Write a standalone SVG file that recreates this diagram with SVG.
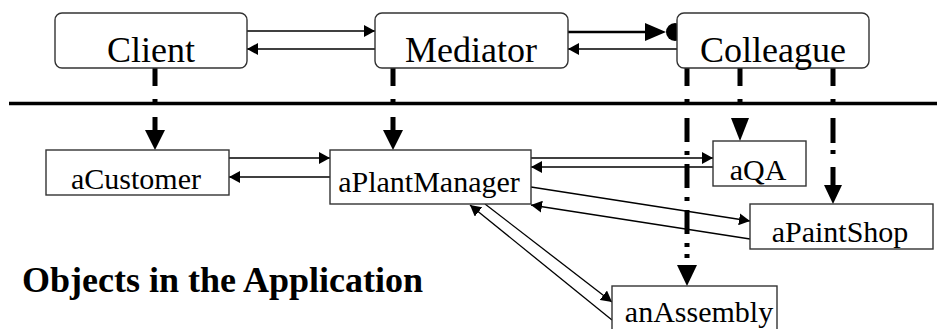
<svg xmlns="http://www.w3.org/2000/svg" width="946" height="329" viewBox="0 0 946 329">
<defs>
<style>
.rbox{fill:#fff;stroke:#333;stroke-width:1.4}
.box{fill:#fff;stroke:#333;stroke-width:1.4}
.big{font-family:"Liberation Serif","Times New Roman",serif;font-size:36px;fill:#000;text-anchor:middle}
.obj{font-family:"Liberation Serif","Times New Roman",serif;font-size:30px;fill:#000;text-anchor:middle}
.title{font-family:"Liberation Serif","Times New Roman",serif;font-size:36px;font-weight:bold;fill:#000}
.thin{fill:none;stroke:#000;stroke-width:1.3}
.dd{fill:none;stroke:#000;stroke-width:5}
.head{fill:#000}
</style>
<marker id="ah" viewBox="0 0 11 12" refX="11" refY="6" markerWidth="11" markerHeight="12" markerUnits="userSpaceOnUse" orient="auto">
<path d="M0,0 L11,6 L0,12 z" fill="#000"/>
</marker>
</defs>

<g id="connectors">
<line x1="9" y1="103.5" x2="937" y2="103.5" stroke="#000" stroke-width="3.5"/>
<!-- Client <-> Mediator -->
<line class="thin" x1="247" y1="31" x2="375" y2="31" marker-end="url(#ah)"/>
<line class="thin" x1="375" y1="49" x2="247" y2="49" marker-end="url(#ah)"/>
<!-- Mediator <-> Colleague -->
<line x1="563" y1="32" x2="648" y2="32" stroke="#000" stroke-width="2.6"/>
<polygon class="head" points="645,23 666,32 645,41"/>
<circle cx="675" cy="32" r="9" fill="#000"/>
<line class="thin" x1="678" y1="49" x2="568" y2="49" marker-end="url(#ah)"/>
<!-- instance-of dash-dot lines -->
<path class="dd" d="M155,68V86M155,99V103M155,117V131"/>
<polygon class="head" points="145,130 165,130 155,150"/>
<path class="dd" d="M393,68V86M393,99V103M393,117V131"/>
<polygon class="head" points="383,130 403,130 393,150"/>
<path class="dd" d="M740,68V86M740,99V103"/>
<polygon class="head" points="731,118 749,118 740,141"/>
<path class="dd" d="M833,68V86M833,99V103M833,118V143M833,150V154M833,167V186"/>
<polygon class="head" points="824,185 842,185 833,204"/>
<path class="dd" d="M687,68V86M687,99V103M687,118V142M687,151V155M687,164V188M687,197V201M687,210V234M687,243V247M687,254V258"/>
<polygon class="head" points="677,265 697,265 687,286"/>
<!-- aCustomer <-> aPlantManager -->
<line class="thin" x1="229" y1="158" x2="330" y2="158" marker-end="url(#ah)"/>
<line class="thin" x1="330" y1="177" x2="229" y2="177" marker-end="url(#ah)"/>
<!-- aPlantManager <-> aQA -->
<line class="thin" x1="531" y1="158" x2="713" y2="158" marker-end="url(#ah)"/>
<line class="thin" x1="713" y1="167" x2="531" y2="167" marker-end="url(#ah)"/>
<!-- aPlantManager <-> aPaintShop -->
<line class="thin" x1="531" y1="187" x2="750" y2="221" marker-end="url(#ah)"/>
<line class="thin" x1="750" y1="239" x2="531" y2="205" marker-end="url(#ah)"/>
<!-- aPlantManager <-> anAssembly -->
<line class="thin" x1="485" y1="204" x2="612" y2="302" marker-end="url(#ah)"/>
<line class="thin" x1="612" y1="320" x2="470" y2="205" marker-end="url(#ah)"/>
</g>

<g id="client">
<rect class="rbox" x="55" y="13" width="192" height="55" rx="7"/>
<text class="big" x="151" y="62">Client</text>
</g>
<g id="mediator">
<rect class="rbox" x="375" y="13" width="193" height="55" rx="7"/>
<text class="big" x="471" y="62">Mediator</text>
</g>
<g id="colleague">
<rect class="rbox" x="677" y="13" width="192" height="55" rx="7"/>
<text class="big" x="773" y="62">Colleague</text>
</g>
<g id="aCustomer">
<rect class="box" x="46" y="150" width="183" height="45"/>
<text class="obj" x="136" y="189">aCustomer</text>
</g>
<g id="aPlantManager">
<rect class="box" x="330" y="150" width="201" height="54"/>
<text class="obj" x="429" y="192">aPlantManager</text>
</g>
<g id="aQA">
<rect class="box" x="713" y="141" width="93" height="45"/>
<text class="obj" x="758" y="180">aQA</text>
</g>
<g id="aPaintShop">
<rect class="box" x="750" y="204" width="183" height="45"/>
<text class="obj" x="840" y="242">aPaintShop</text>
</g>
<g id="anAssembly">
<rect class="box" x="612" y="286" width="165" height="60"/>
<text class="obj" x="699" y="322">anAssembly</text>
</g>
<g id="title">
<text class="title" x="22" y="292">Objects in the Application</text>
</g>
</svg>
